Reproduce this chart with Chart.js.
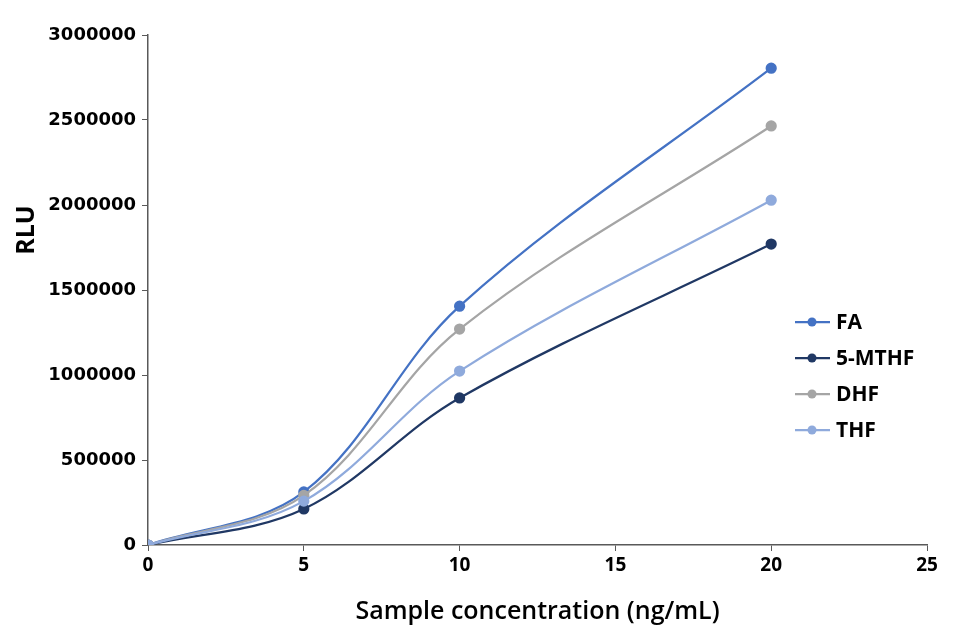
<!DOCTYPE html>
<html>
<head>
<meta charset="utf-8">
<script src="https://cdn.jsdelivr.net/npm/chart.js@4/dist/chart.umd.min.js"></script>
<style>
  html, body { margin: 0; padding: 0; background: #fff; }
</style>
</head>
<body>
<canvas id="myChart" width="964" height="640"></canvas>
<script>
const concentrations = [0, 5, 10, 20];
const seriesNames = ['FA', '5-MTHF', 'DHF', 'THF'];
const faValues = [0, 312000, 1405000, 2805000];
const mthfValues = [0, 212000, 865000, 1770000];
const dhfValues = [0, 292000, 1270000, 2465000];
const thfValues = [0, 258000, 1023000, 2028000];
const xTicks = [0, 5, 10, 15, 20, 25];
const yTicks = [0, 500000, 1000000, 1500000, 2000000, 2500000, 3000000];

const colors = ['#4472C4', '#203864', '#A5A5A5', '#8FAADC'];
const allValues = [faValues, mthfValues, dhfValues, thfValues];

const datasets = allValues.map((vals, i) => ({
    label: seriesNames[i],
    data: concentrations.map((x, j) => ({ x: x, y: vals[j] })),
    borderColor: colors[i],
    backgroundColor: colors[i],
    borderWidth: 2.25,
    pointRadius: 4.5,
    pointHoverRadius: 4.5,
    tension: 0.35,
    order: 3 - i
}));

// legend drawn inside the plot, plus the offset RLU title
const customLegend = {
    id: 'customLegend',
    afterDraw(chart) {
        const c = chart.ctx;
        c.save();
        seriesNames.forEach((name, i) => {
            const y = 322 + i * 36;
            c.strokeStyle = colors[i];
            c.lineWidth = 2.25;
            c.beginPath();
            c.moveTo(795, y);
            c.lineTo(830, y);
            c.stroke();
            c.fillStyle = colors[i];
            c.beginPath();
            c.arc(812, y, 4.5, 0, Math.PI * 2);
            c.fill();
            c.fillStyle = '#000';
            c.font = 'bold 21px "Open Sans"';
            c.textBaseline = 'middle';
            c.textAlign = 'left';
            c.fillText(name, 836, y + 1);
        });
        c.translate(27, 230);
        c.rotate(-Math.PI / 2);
        c.font = 'bold 25px "Open Sans"';
        c.textAlign = 'center';
        c.textBaseline = 'middle';
        c.fillText('RLU', 0, 0);
        c.restore();
    }
};

const ctx = document.getElementById('myChart').getContext('2d');
new Chart(ctx, {
    type: 'line',
    data: { datasets: datasets },
    options: {
        responsive: false,
        animation: false,
        layout: { padding: { top: 35, right: 37, left: 0, bottom: 0 } },
        plugins: {
            legend: { display: false },
            tooltip: { enabled: false }
        },
        scales: {
            x: {
                type: 'linear',
                min: 0,
                max: 25,
                afterFit: s => { s.height = 95; },
                afterBuildTicks: s => { s.ticks = xTicks.map(v => ({ value: v })); },
                grid: { drawOnChartArea: false, drawTicks: true, tickLength: 6, color: '#595959' },
                border: { color: '#595959', width: 1.5 },
                ticks: {
                    color: '#000',
                    padding: 3,
                    maxRotation: 0,
                    font: { family: '"Liberation Sans Narrow", "Noto Sans"', size: 19, weight: 'bold' }
                },
                title: {
                    display: true,
                    text: 'Sample concentration (ng/mL)',
                    color: '#000',
                    padding: { top: 0, bottom: 13 },
                    font: { family: '"Open Sans"', size: 25, weight: '600' }
                }
            },
            y: {
                min: 0,
                max: 3000000,
                afterFit: s => { s.width = 148; },
                afterBuildTicks: s => { s.ticks = yTicks.map(v => ({ value: v })); },
                grid: { drawOnChartArea: false, drawTicks: true, tickLength: 6, color: '#595959' },
                border: { color: '#595959', width: 1.5 },
                ticks: {
                    color: '#000',
                    padding: 6,
                    callback: v => String(v),
                    font: { family: '"DejaVu Sans"', size: 18, weight: 'bold' }
                }
            }
        }
    },
    plugins: [customLegend]
});
</script>
</body>
</html>
